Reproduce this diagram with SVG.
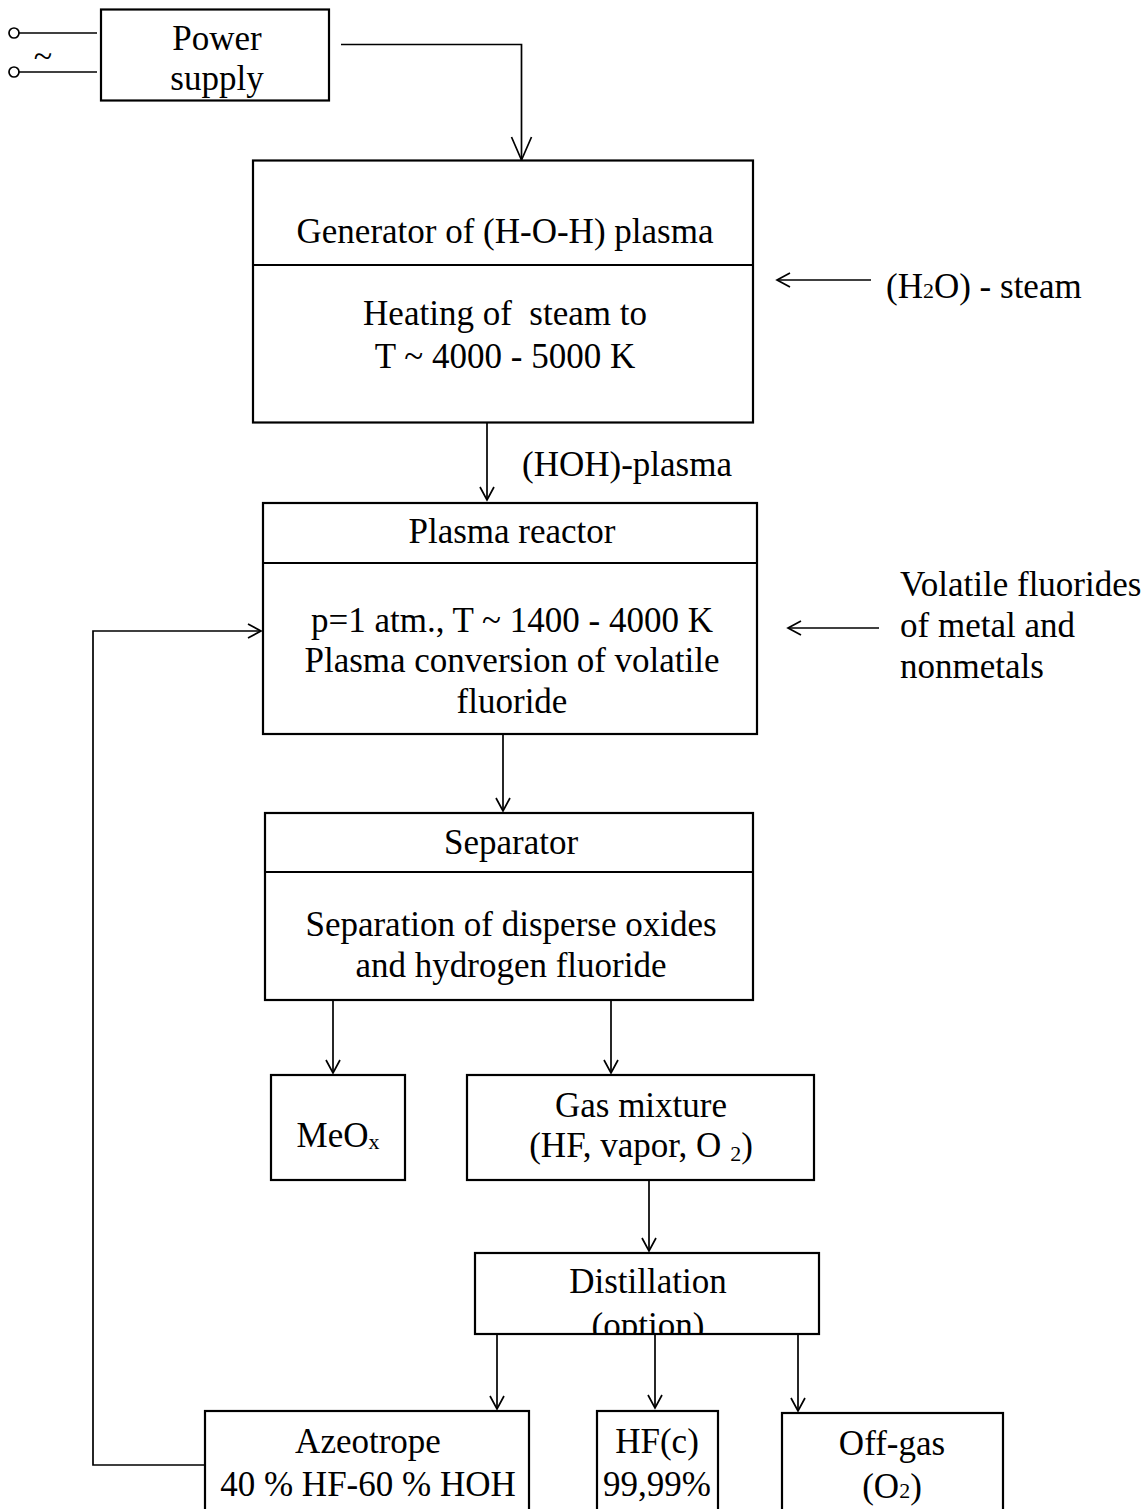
<svg xmlns="http://www.w3.org/2000/svg" width="1148" height="1509" viewBox="0 0 1148 1509">
<style>
text{font-family:"Liberation Serif","Times New Roman",serif;font-size:35px;fill:#000}
.c{text-anchor:middle}
.sub{font-size:22px}
.box{fill:#fff;stroke:#000;stroke-width:2.2}
.div{stroke:#000;stroke-width:2.2}
.ln{fill:none;stroke:#000;stroke-width:1.7}
</style>
<defs>
<marker id="a" viewBox="-16 -9 18 18" refX="0" refY="0" markerWidth="18" markerHeight="18" markerUnits="userSpaceOnUse" orient="auto"><path d="M-13,-7 L0,0 L-13,7" fill="none" stroke="#000" stroke-width="1.7"/></marker>
<marker id="b" viewBox="-26 -12 28 24" refX="0" refY="0" markerWidth="28" markerHeight="24" markerUnits="userSpaceOnUse" orient="auto"><path d="M-23,-10 L0,0 L-23,10" fill="none" stroke="#000" stroke-width="1.7"/></marker>
<clipPath id="distClip"><rect x="475" y="1253" width="344" height="81"/></clipPath>
</defs>

<g id="connectors">
<circle cx="14" cy="33" r="5" class="ln" stroke-width="2"/>
<circle cx="14" cy="72" r="5" class="ln" stroke-width="2"/>
<line x1="19" y1="33" x2="97" y2="33" class="ln" stroke-width="2"/>
<line x1="19" y1="72" x2="97" y2="72" class="ln" stroke-width="2"/>
<text x="43" y="67" class="c" style="font-size:34px">~</text>
<polyline points="341,44.5 521.5,44.5 521.5,160" class="ln" marker-end="url(#b)"/>
<line x1="871" y1="280" x2="777" y2="280" class="ln" marker-end="url(#a)"/>
<line x1="487" y1="422" x2="487" y2="500" class="ln" marker-end="url(#a)"/>
<text x="522" y="476">(HOH)-plasma</text>
<line x1="879" y1="628" x2="788" y2="628" class="ln" marker-end="url(#a)"/>
<polyline points="205,1465 93,1465 93,631 261,631" class="ln" marker-end="url(#a)"/>
<line x1="503" y1="734" x2="503" y2="811" class="ln" marker-end="url(#a)"/>
<line x1="333" y1="1000" x2="333" y2="1073" class="ln" marker-end="url(#a)"/>
<line x1="611" y1="1000" x2="611" y2="1073" class="ln" marker-end="url(#a)"/>
<line x1="649" y1="1180" x2="649" y2="1251" class="ln" marker-end="url(#a)"/>
<line x1="497" y1="1334" x2="497" y2="1409" class="ln" marker-end="url(#a)"/>
<line x1="655" y1="1334" x2="655" y2="1408" class="ln" marker-end="url(#a)"/>
<line x1="798" y1="1334" x2="798" y2="1411" class="ln" marker-end="url(#a)"/>
</g>

<g id="power">
<rect x="101" y="9.5" width="228" height="91" class="box"/>
<text x="217" y="50" class="c">Power</text>
<text x="217" y="90" class="c">supply</text>
</g>

<g id="generator">
<rect x="253" y="160.5" width="500" height="262" class="box"/>
<line x1="253" y1="265" x2="753" y2="265" class="div"/>
<text x="505" y="243" class="c">Generator of (H-O-H) plasma</text>
<text x="505" y="325" class="c" style="white-space:pre">Heating of  steam to</text>
<text x="505" y="368" class="c">T ~ 4000 - 5000 K</text>
</g>

<g id="steam">
<text x="886" y="298">(H<tspan class="sub">2</tspan>O) - steam</text>
</g>

<g id="reactor">
<rect x="263" y="503" width="494" height="231" class="box"/>
<line x1="263" y1="563" x2="757" y2="563" class="div"/>
<text x="512" y="543" class="c">Plasma reactor</text>
<text x="512" y="632" class="c">p=1 atm., T ~ 1400 - 4000 K</text>
<text x="512" y="672" class="c">Plasma conversion of volatile</text>
<text x="512" y="713" class="c">fluoride</text>
</g>

<g id="fluorides">
<text x="900" y="596">Volatile fluorides</text>
<text x="900" y="637">of metal and</text>
<text x="900" y="678">nonmetals</text>
</g>

<g id="separator">
<rect x="265" y="813" width="488" height="187" class="box"/>
<line x1="265" y1="872" x2="753" y2="872" class="div"/>
<text x="511" y="854" class="c">Separator</text>
<text x="511" y="936" class="c">Separation of disperse oxides</text>
<text x="511" y="977" class="c">and hydrogen fluoride</text>
</g>

<g id="meox">
<rect x="271" y="1075" width="134" height="105" class="box"/>
<text x="338" y="1147" class="c">MeO<tspan class="sub" dy="2">x</tspan></text>
</g>

<g id="gasmix">
<rect x="467" y="1075" width="347" height="105" class="box"/>
<text x="641" y="1117" class="c">Gas mixture</text>
<text x="641" y="1157" class="c">(HF, vapor, O <tspan class="sub" dy="4">2</tspan><tspan dy="-4">)</tspan></text>
</g>

<g id="distillation">
<text x="648" y="1293" class="c">Distillation</text>
<text x="648" y="1337" class="c" clip-path="url(#distClip)">(option)</text>
<rect x="475" y="1253" width="344" height="81" fill="none" stroke="#000" stroke-width="2.2"/>
</g>

<g id="azeotrope">
<rect x="205" y="1411" width="324" height="130" class="box"/>
<text x="368" y="1453" class="c">Azeotrope</text>
<text x="368" y="1496" class="c">40 % HF-60 % HOH</text>
</g>

<g id="hfc">
<rect x="597" y="1411" width="121" height="130" class="box"/>
<text x="657" y="1453" class="c">HF(c)</text>
<text x="657" y="1496" class="c">99,99%</text>
</g>

<g id="offgas">
<rect x="782" y="1413" width="221" height="130" class="box"/>
<text x="892" y="1455" class="c">Off-gas</text>
<text x="892" y="1498" class="c">(O<tspan class="sub">2</tspan>)</text>
</g>
</svg>
